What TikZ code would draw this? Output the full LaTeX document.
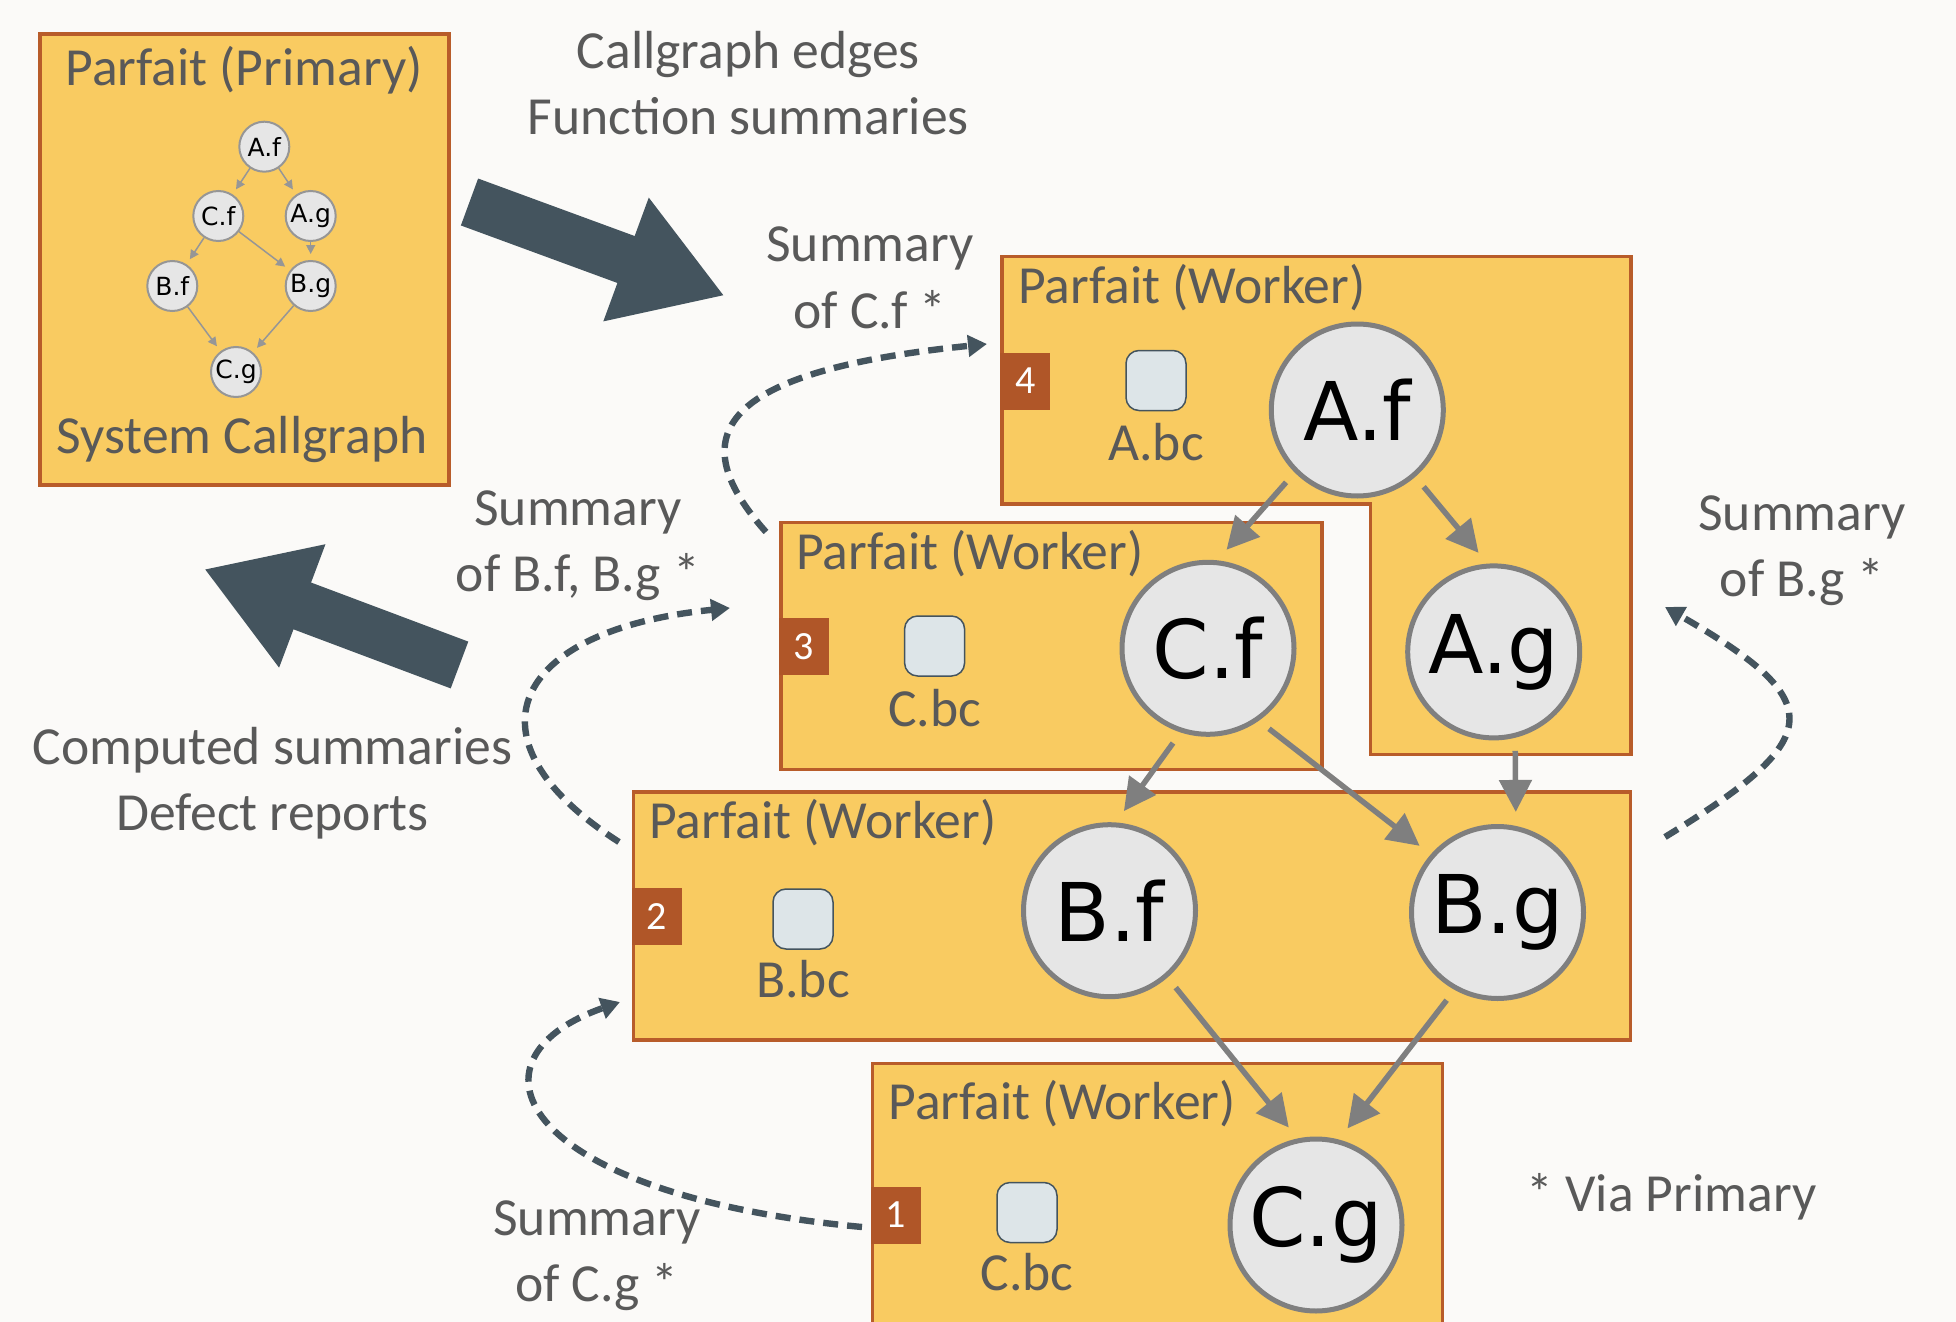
\documentclass[tikz,border=0pt]{standalone}
\usepackage{fontspec}
\setmainfont{Carlito}
\newfontfamily\fnfont{DejaVu Sans}
\usetikzlibrary{arrows.meta}
\definecolor{Bg}{RGB}{251,250,248}
\definecolor{Y1}{RGB}{249,203,97}
\definecolor{E1}{RGB}{184,92,42}
\definecolor{E2}{RGB}{176,86,40}
\definecolor{S1}{RGB}{68,84,94}
\definecolor{T1}{RGB}{89,89,89}
\definecolor{F1}{RGB}{230,230,230}
\definecolor{R1}{RGB}{127,127,127}
\definecolor{R2}{RGB}{150,150,150}
\definecolor{I1}{RGB}{221,229,232}
\tikzset{
  prim/.style={draw=E1, line width=2pt, fill=Y1, inner sep=0pt},
  worker/.style={draw=E1, line width=1.75pt, fill=Y1, inner sep=0pt},
  badge/.style={fill=E2, text=white, minimum width=25pt, minimum height=28.5pt,
    inner sep=0pt, font=\fontsize{20}{20}\selectfont},
  icon/.style={draw=S1, line width=0.75pt, fill=I1, rounded corners=6.5pt,
    minimum size=30pt, inner sep=0pt},
  lbl/.style={text=T1, font=\fontsize{26.8}{33}\selectfont, align=center, inner sep=0pt},
  fn/.style={circle, draw=R1, line width=2.5pt, fill=F1, minimum size=86pt,
    inner sep=0pt, font=\fnfont\fontsize{40.5}{41}\selectfont},
  sfn/.style={circle, draw=R2, line width=1pt, fill=F1, minimum size=25pt,
    inner sep=0pt, font=\fnfont\fontsize{12.5}{13}\selectfont},
  call/.style={draw=R1, line width=2.75pt, -{Triangle[length=16pt,width=16pt]},
    shorten <=6.5pt, shorten >=7pt},
  scall/.style={draw=R2, line width=0.75pt, -{Triangle[length=4.5pt,width=4.5pt]},
    shorten >=3pt},
  via/.style={draw=S1, line width=3.2pt, dash pattern=on 7.5pt off 4.5pt,
    -{Triangle[length=9.5pt,width=10.5pt]}},
  flow/.style={draw=S1, line width=25pt, -{Triangle[length=52.5pt,width=62pt]}},
}
\begin{document}
\begin{tikzpicture}[x=0.5pt,y=-0.5pt]
  \useasboundingbox (0,0) rectangle (1956,1322);
  \fill[Bg] (0,0) rectangle (1956,1322);

  % primary and its callgraph
  \node[prim, minimum width=204.5pt, minimum height=225.5pt] (pr) at (244.5,259.5) {};
  \node[lbl, anchor=base] (prt) at (244,86) {Parfait (Primary)};
  \node[lbl, anchor=base] (prb) at (242,453) {System Callgraph};
  \node[sfn] (paf) at (264.3,146.7) {A.f};
  \node[sfn] (pcf) at (218.3,216) {C.f};
  \node[sfn] (pag) at (310.7,216) {A.g};
  \node[sfn] (pbf) at (172.3,286) {B.f};
  \node[sfn] (pbg) at (310.7,286) {B.g};
  \node[sfn] (pcg) at (236,372) {C.g};
  \draw[scall] (paf) -- (pcf);
  \draw[scall] (paf) -- (pag);
  \draw[scall] (pcf) -- (pbf);
  \draw[scall] (pcf) -- (pbg);
  \draw[scall] (pag) -- (pbg);
  \draw[scall] (pbf) -- (pcg);
  \draw[scall] (pbg) -- (pcg);

  % workers
  \draw[worker] (1002.2,256.3) -- (1630.9,256.3) -- (1630.9,754.3) -- (1370.6,754.3)
    -- (1370.6,503.8) -- (1002.2,503.8) -- cycle;
  \node[worker, minimum width=270.5pt, minimum height=123.5pt] (w3) at (1051.3,646) {};
  \node[worker, minimum width=498.5pt, minimum height=124pt] (w2) at (1132.2,915.9) {};
  \node[worker, minimum width=285pt, minimum height=140.8pt] (w1) at (1157.7,1204.2) {};

  \node[lbl, anchor=base west] (t4) at (1018,303.8) {Parfait (Worker)};
  \node[lbl, anchor=base west] (t3) at (796,569.6) {Parfait (Worker)};
  \node[lbl, anchor=base west] (t2) at (648.7,838.6) {Parfait (Worker)};
  \node[lbl, anchor=base west] (t1) at (888.3,1119) {Parfait (Worker)};

  \node[badge] (n4) at (1025.4,381) {4};
  \node[badge] (n3) at (804,646.5) {3};
  \node[badge] (n2) at (656.8,916.6) {2};
  \node[badge] (n1) at (896,1215) {1};

  \node[icon] (abc) at (1156,380.5) {};
  \node[icon] (cbc3) at (934.6,646) {};
  \node[icon] (bbc) at (803,919) {};
  \node[icon] (cbc1) at (1027,1212.5) {};
  \node[lbl, anchor=base] (abcl) at ([yshift=-40pt]abc.center) {A.bc};
  \node[lbl, anchor=base] (cbc3l) at ([yshift=-40pt]cbc3.center) {C.bc};
  \node[lbl, anchor=base] (bbcl) at ([yshift=-39pt]bbc.center) {B.bc};
  \node[lbl, anchor=base] (cbc1l) at ([yshift=-39pt]cbc1.center) {C.bc};

  \node[fn] (af) at (1357.3,410) {A.f};
  \node[fn] (cf) at (1208,648.3) {C.f};
  \node[fn] (ag) at (1493.7,651.9) {A.g};
  \node[fn] (bf) at (1109.5,910.7) {B.f};
  \node[fn] (bg) at (1497.5,912.5) {B.g};
  \node[fn] (cg) at (1316,1225) {C.g};
  \draw[call] (af.225) -- (cf.84);
  \draw[call] (af.311) -- (ag.94);
  \draw[call] (ag.284) -- (bg.78);
  \draw[call] (cf.252) -- (bf.86);
  \draw[call] (cf.305) -- (bg.139);
  \draw[call] (bf.311) -- (cg.102);
  \draw[call] (bg.241) -- (cg.75);

  % big arrows
  \coordinate (toWa) at (469.5,202);
  \coordinate (toWb) at (724.6,295.7);
  \coordinate (toPa) at (459.5,665);
  \coordinate (toPb) at (204,569);
  \draw[flow] (toWa) -- (toWb);
  \draw[flow] (toPa) -- (toPb);
  \node[lbl, anchor=base] (cgl) at (748.4,135) {Callgraph edges\\Function summaries};
  \node[lbl, anchor=base] (csl) at (272.5,830) {Computed summaries\\Defect reports};

  % summaries via primary
  \coordinate (s1a) at (766,532);
  \coordinate (s1b) at (987,344);
  \coordinate (s2a) at (619,842);
  \coordinate (s2b) at (730,608);
  \coordinate (s3a) at (862,1227);
  \coordinate (s3b) at (620,1002);
  \coordinate (s4a) at (1665,837);
  \coordinate (s4b) at (1665,607);
  \draw[via] (s1a) .. controls (675,430) and (730,370) .. (s1b);
  \draw[via] (s2a) .. controls (460,740) and (510,630) .. (s2b);
  \draw[via] (s3a) .. controls (520,1195) and (455,1060) .. (s3b);
  \draw[via] (s4a) .. controls (1826.5,738) and (1830,702) .. (s4b);
  \node[lbl, anchor=base] (sm1) at (870,328) {Summary\\of C.f *};
  \node[lbl, anchor=base] (sm2) at (578,591.7) {Summary\\of B.f, B.g *};
  \node[lbl, anchor=base] (sm3) at (597,1301.7) {Summary\\of C.g *};
  \node[lbl, anchor=base] (sm4) at (1802,596.7) {Summary\\of B.g *};
  \node[lbl, anchor=base] (vp) at (1671.5,1211) {* Via Primary};
\end{tikzpicture}
\end{document}
